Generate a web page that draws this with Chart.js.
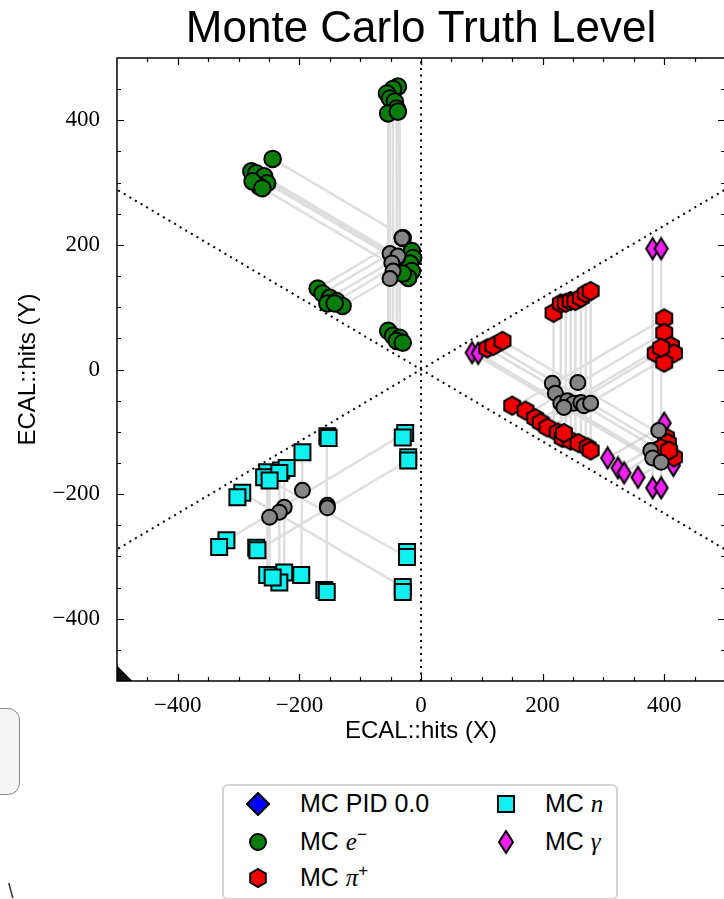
<!DOCTYPE html>
<html>
<head>
<meta charset="utf-8">
<title>Monte Carlo Truth Level</title>
<script src="https://cdn.jsdelivr.net/npm/chart.js@4.4.1/dist/chart.umd.min.js"></script>
<style>
  html, body { margin: 0; padding: 0; background: #fff; }
  body { width: 724px; height: 899px; position: relative; overflow: hidden; font-family: "Liberation Sans", Arial, sans-serif; }
  #plot { position: absolute; left: 0; top: 0; }
  #legend { position: absolute; left: 222px; top: 784px; width: 396px; height: 116px; box-sizing: border-box;
            border: 2px solid #d4d4d4; border-radius: 6px; background: #fff; }
  #legend svg { position: absolute; }
  #legend span { position: absolute; font-size: 25px; line-height: 30px; color: #000; white-space: nowrap; }
  #legend i { font-family: "Liberation Serif", serif; font-style: italic; }
  #legend sup { font-size: 17px; line-height: 0; vertical-align: 10px; }
  #sidebox { position: absolute; left: -40px; top: 708px; width: 60px; height: 87px; box-sizing: border-box;
             border: 1.5px solid #8c8c8c; border-radius: 12px; background: #f4f4f4; }
  #stroke { position: absolute; left: 8px; top: 880px; font-size: 20px; color: #333; }
</style>
</head>
<body>
<canvas id="plot" width="726" height="750"></canvas>

<div id="legend">
  <svg style="left:22px;top:6px" width="24" height="24"><polygon points="12,1 23,12 12,23 1,12" fill="#0000ff" stroke="#000" stroke-width="2"/></svg>
  <span style="left:76px;top:2px">MC PID 0.0</span>
  <svg style="left:23px;top:45px" width="22" height="22"><circle cx="11" cy="11" r="8" fill="#0a7d0a" stroke="#000" stroke-width="2"/></svg>
  <span style="left:76px;top:40px">MC <i>e</i><sup>−</sup></span>
  <svg style="left:23px;top:81px" width="22" height="22"><polygon points="11,2 18.8,6.5 18.8,15.5 11,20 3.2,15.5 3.2,6.5" fill="#ee0000" stroke="#000" stroke-width="2"/></svg>
  <span style="left:76px;top:76px">MC <i>π</i><sup>+</sup></span>
  <svg style="left:272px;top:8px" width="20" height="20"><rect x="2" y="2" width="16" height="16" fill="#10f0f0" stroke="#000" stroke-width="2"/></svg>
  <span style="left:321px;top:2px">MC <i>n</i></span>
  <svg style="left:273px;top:43px" width="18" height="26"><polygon points="9,2 16,13 9,24 2,13" fill="#f020f0" stroke="#000" stroke-width="2"/></svg>
  <span style="left:321px;top:40px">MC <i>γ</i></span>
</div>
<div id="sidebox"></div>
<span id="stroke">\</span>

<script>
// MC e- hits
const electronX = [-38, -46, -56, -51, -43, -40, -54, -38, -244, -279, -271, -258, -253, -266, -277, -261,
  -30, -15, -13, -18, -15, -21, -30, -40, -170, -162, -150, -139, -129, -154, -142, -54, -46, -35, -40, -30];
const electronY = [454, 450, 443, 435, 430, 419, 411, 414, 338, 318, 315, 310, 299, 294, 302, 291,
  211, 190, 179, 170, 158, 147, 154, 179, 130, 122, 115, 110, 102, 106, 106, 62, 54, 51, 46, 43];

// MC pi+ hits
const pionX = [218, 230, 238, 246, 254, 263, 271, 279, 109, 119, 134,
  150, 172, 188, 197, 208, 225, 233, 246, 259, 274, 279, 235,
  400, 400, 386, 411, 416, 400, 395, 403, 406, 416, 395, 408];
const pionY = [91, 106, 107, 110, 110, 115, 122, 126, 34, 38, 46,
  -58, -66, -78, -85, -93, -101, -110, -114, -118, -125, -130, -102,
  82, 59, 26, 38, 26, 11, 35, -109, -118, -141, -126, -130];

// MC n hits
const neutronX = [-154, -152, -195, -253, -230, -221, -258, -233, -249, -294, -302, -26, -30, -21, -21,
  -320, -332, -271, -269, -253, -225, -197, -233, -244, -159, -155, -23, -23, -30, -30];
const neutronY = [-107, -110, -133, -165, -162, -158, -173, -166, -178, -198, -205, -102, -109, -141, -146,
  -274, -285, -286, -290, -330, -326, -330, -342, -334, -354, -357, -293, -301, -349, -357];

// MC gamma hits
const photonX = [84, 94, 381, 395, 400, 415, 381, 395, 307, 324, 334, 357];
const photonY = [27, 26, 194, 194, -86, -154, -190, -190, -142, -158, -166, -173];

// MC PID 0.0 (unassigned, sits at the corner)
const unknownX = [-500];
const unknownY = [-500];

// reconstructed strip crossings
const crossX = [-31, -51, -38, -48, -46, -51, 216, 258, 221, 230, 241, 251, 263, 268, 279, 235,
  391, 378, 381, 395, -195, -225, -233, -249, -154, -154];
const crossY = [211, 186, 182, 171, 158, 146, -22, -21, -38, -54, -50, -54, -53, -58, -54, -61,
  -98, -130, -142, -149, -194, -221, -229, -237, -218, -222];

// strips fired by each particle: [x1, y1, x2, y2]
const electronStrips = [
  [-54, 411, -54, 62], [-51, 435, -51, 50], [-46, 450, -46, 54], [-40, 419, -40, 46], [-36, 454, -35, 51],
  [-279, 318, -30, 174], [-271, 315, -25, 173], [-258, 310, -18, 171], [-266, 294, -15, 149],
  [-253, 299, -20, 165], [-244, 338, -31, 215],
  [-170, 130, -40, 205], [-162, 122, -30, 198], [-150, 115, -21, 189], [-139, 110, -15, 182], [-129, 102, -13, 169],
];
const pionStrips = [
  [218, 91, 218, -96], [230, 106, 230, -103], [238, 107, 238, -107], [246, 110, 246, -112],
  [254, 110, 254, -116], [263, 115, 263, -121], [271, 122, 271, -126], [279, 126, 279, -130],
  [84, 27, 378, -143], [94, 26, 391, -146], [109, 34, 395, -131], [119, 38, 403, -126], [134, 46, 408, -112],
  [400, 82, 150, -62], [400, 59, 172, -73], [411, 38, 197, -86], [395, 35, 188, -85], [416, 26, 225, -84],
];
const photonStrips = [
  [381, 194, 381, -190], [395, 194, 395, -190],
  [307, -142, 392, -94], [324, -158, 404, -112], [334, -166, 408, -118], [357, -173, 415, -138],
];
const neutronStrips = [
  [-155, -107, -155, -357], [-195, -133, -197, -330], [-225, -158, -225, -326],
  [-233, -166, -233, -342], [-249, -178, -249, -334], [-253, -165, -253, -330],
  [-320, -274, -26, -102], [-269, -290, -21, -146],
  [-294, -198, -30, -349], [-258, -173, -23, -301],
];

// sector boundaries of the hexagonal calorimeter
const sectorEdges = [[-866, -500, 866, 500], [-866, 500, 866, -500], [0, -500, 0, 500]];

const axisMin = -500;
const axisMax = 500;
const tickStep = 50;
const labelStep = 200;

const toPoints = (xs, ys) => xs.map((x, i) => ({ x, y: ys[i] }));
const toSegments = (strips) =>
  strips.flatMap(([x1, y1, x2, y2]) => [{ x: x1, y: y1 }, { x: x2, y: y2 }, { x: null, y: null }]);

const markerCanvas = (w, h, path, fill) => {
  const c = document.createElement('canvas');
  c.width = w;
  c.height = h;
  const g = c.getContext('2d');
  g.beginPath();
  path(g, w / 2, h / 2);
  g.closePath();
  g.fillStyle = fill;
  g.fill();
  g.lineWidth = 2;
  g.strokeStyle = '#000';
  g.stroke();
  return c;
};

const hexagon = markerCanvas(22, 22, (g, cx, cy) => {
  for (let i = 0; i < 6; i++) {
    const a = Math.PI / 2 + (i * Math.PI) / 3;
    g.lineTo(cx + 9.2 * Math.cos(a), cy - 9.2 * Math.sin(a));
  }
}, '#ee0000');

const thinDiamond = markerCanvas(17, 25, (g, cx, cy) => {
  g.moveTo(cx, cy - 10.5);
  g.lineTo(cx + 6.5, cy);
  g.lineTo(cx, cy + 10.5);
  g.lineTo(cx - 6.5, cy);
}, '#f020f0');

const stripStyle = {
  type: 'line',
  borderColor: 'rgba(190, 190, 190, 0.5)',
  borderWidth: 2.5,
  pointRadius: 0,
  spanGaps: false,
  tension: 0,
  order: 10,
};

// inward ticks on all four sides plus the axes frame
const frameTicks = {
  id: 'frameTicks',
  afterDatasetsDraw(chart) {
    const { ctx, chartArea: a, scales: { x, y } } = chart;
    ctx.save();
    ctx.strokeStyle = '#000';
    ctx.lineWidth = 1.2;
    ctx.beginPath();
    x.ticks.forEach(({ value }) => {
      if (value <= x.min || value >= x.max) return;
      const px = Math.round(x.getPixelForValue(value)) + 0.5;
      const len = value % labelStep === 0 ? 7 : 4;
      ctx.moveTo(px, a.bottom);
      ctx.lineTo(px, a.bottom - len);
      ctx.moveTo(px, a.top);
      ctx.lineTo(px, a.top + len);
    });
    y.ticks.forEach(({ value }) => {
      if (value <= y.min || value >= y.max) return;
      const py = Math.round(y.getPixelForValue(value)) + 0.5;
      const len = value % labelStep === 0 ? 7 : 4;
      ctx.moveTo(a.left, py);
      ctx.lineTo(a.left + len, py);
      ctx.moveTo(a.right, py);
      ctx.lineTo(a.right - len, py);
    });
    ctx.stroke();
    ctx.lineWidth = 1.5;
    ctx.strokeRect(a.left, a.top, a.width, a.height);
    ctx.restore();
  },
};

const tickLabel = (value) =>
  value % labelStep === 0 ? String(value).replace('-', '\u2212') : '';

const axisTicks = {
  stepSize: tickStep,
  autoSkip: false,
  maxRotation: 0,
  color: '#000',
  font: { family: 'Liberation Serif', size: 23 },
  callback: tickLabel,
};

new Chart(document.getElementById('plot'), {
  type: 'scatter',
  data: {
    datasets: [
      {
        label: 'crossings',
        data: toPoints(crossX, crossY),
        pointStyle: 'circle',
        pointRadius: 7.5,
        pointBackgroundColor: '#858585',
        pointBorderColor: '#000',
        pointBorderWidth: 2,
        order: 0,
      },
      {
        label: 'MC e-',
        data: toPoints(electronX, electronY),
        pointStyle: 'circle',
        pointRadius: 8.3,
        pointBackgroundColor: '#0a7d0a',
        pointBorderColor: '#000',
        pointBorderWidth: 2,
        order: 1,
      },
      {
        label: 'MC pi+',
        data: toPoints(pionX, pionY),
        pointStyle: hexagon,
        pointRadius: 9,
        order: 2,
      },
      {
        label: 'MC n',
        data: toPoints(neutronX, neutronY),
        pointStyle: 'rect',
        pointRadius: 11.3,
        pointBackgroundColor: '#10f0f0',
        pointBorderColor: '#000',
        pointBorderWidth: 2,
        order: 3,
      },
      {
        label: 'MC gamma',
        data: toPoints(photonX, photonY),
        pointStyle: thinDiamond,
        pointRadius: 10,
        order: 4,
      },
      {
        label: 'MC PID 0.0',
        data: toPoints(unknownX, unknownY),
        pointStyle: 'rectRot',
        pointRadius: 14,
        pointBackgroundColor: '#111',
        pointBorderColor: '#000',
        pointBorderWidth: 2,
        clip: 0,
        order: 5,
      },
      { ...stripStyle, label: 'e- strips', data: toSegments(electronStrips) },
      { ...stripStyle, label: 'pi+ strips', data: toSegments(pionStrips) },
      { ...stripStyle, label: 'gamma strips', data: toSegments(photonStrips) },
      { ...stripStyle, label: 'n strips', data: toSegments(neutronStrips) },
      {
        type: 'line',
        label: 'sectors',
        data: toSegments(sectorEdges),
        borderColor: '#000',
        borderWidth: 2,
        borderDash: [2, 4.5],
        pointRadius: 0,
        spanGaps: false,
        tension: 0,
        clip: 0,
        order: 11,
      },
    ],
  },
  options: {
    responsive: false,
    devicePixelRatio: 1,
    animation: false,
    layout: { autoPadding: false, padding: { left: 0, right: 1, top: 0, bottom: 0 } },
    plugins: {
      legend: { display: false },
      tooltip: { enabled: false },
      title: {
        display: true,
        text: 'Monte Carlo Truth Level',
        fullSize: false,
        color: '#000',
        font: { family: 'Liberation Sans', size: 44, weight: 'normal', lineHeight: 1 },
        padding: { top: 8, bottom: 6 },
      },
    },
    scales: {
      x: {
        type: 'linear',
        min: axisMin,
        max: axisMax,
        grid: { display: false },
        border: { display: false },
        ticks: { ...axisTicks, padding: 3 },
        title: {
          display: true,
          text: 'ECAL::hits (X)',
          color: '#000',
          font: { family: 'Liberation Sans', size: 24 },
          padding: { top: 0, bottom: 4 },
        },
        afterFit: (scale) => {
          scale.height = 69;
          scale.paddingLeft = 0;
          scale.paddingRight = 0;
        },
      },
      y: {
        type: 'linear',
        min: axisMin,
        max: axisMax,
        grid: { display: false },
        border: { display: false },
        ticks: { ...axisTicks, padding: 9 },
        title: {
          display: true,
          text: 'ECAL::hits (Y)',
          color: '#000',
          font: { family: 'Liberation Sans', size: 24 },
          padding: { top: 14, bottom: 0 },
        },
        afterFit: (scale) => {
          scale.width = 117;
          scale.paddingTop = 0;
          scale.paddingBottom = 0;
        },
      },
    },
  },
  plugins: [frameTicks],
});
</script>
</body>
</html>
